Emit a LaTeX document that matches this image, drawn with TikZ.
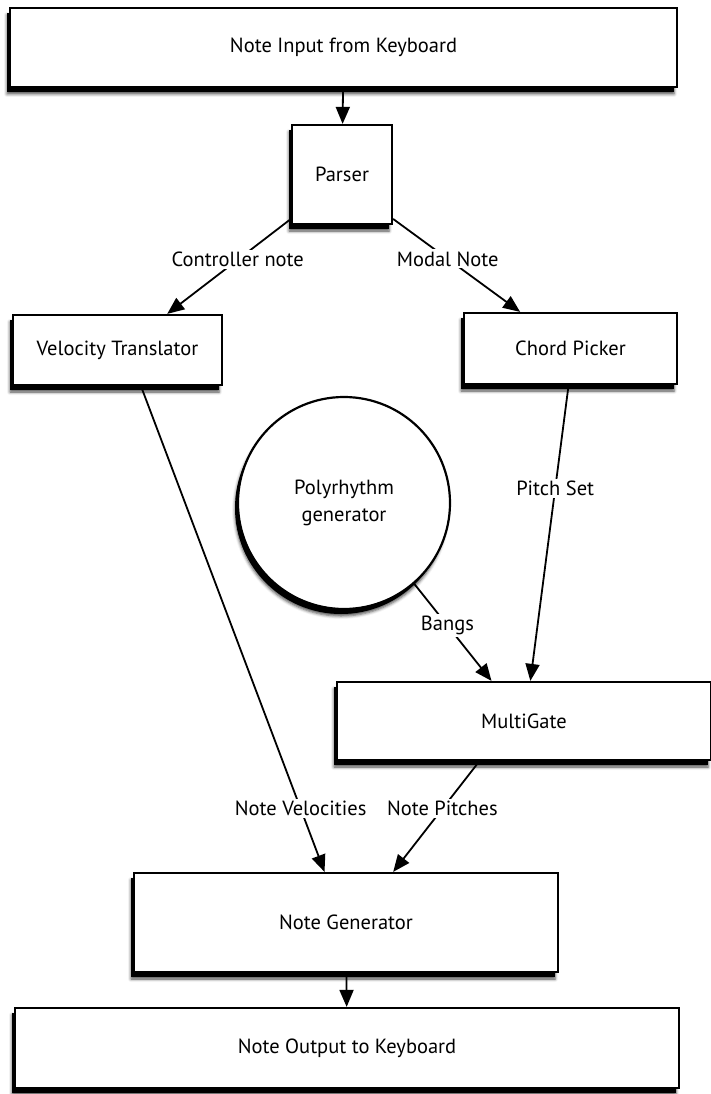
\documentclass[tikz,border=0pt]{standalone}
\usepackage{fontspec}
\setmainfont{PT Sans}
\usetikzlibrary{arrows.meta,shadows,shadows.blur}

\begin{document}
\begin{tikzpicture}[x=1pt,y=-1pt,font=\fontsize{20.5}{27}\selectfont,
  box/.style={draw, line width=2.2pt, fill=white, inner sep=0pt, align=center,
    blur shadow={shadow xshift=-3pt,shadow yshift=-7pt,shadow blur radius=3pt,shadow opacity=70},
    drop shadow={shadow xshift=-3pt,shadow yshift=-5pt,fill=black,opacity=1}},
  lbl/.style={fill=white, inner sep=2pt},
  arr/.style={line width=1.8pt, -{Triangle[length=17pt,width=14pt]}}]
\useasboundingbox (0,0) rectangle (710,1094);
\node[box, minimum width=667pt, minimum height=79pt] (input) at (343.5,47.5) {Note Input from Keyboard};
\node[box, minimum width=100pt, minimum height=99pt] (parser) at (342,174.5) {Parser};
\node[box, minimum width=209pt, minimum height=70pt] (vel) at (117.5,350) {Velocity Translator};
\node[box, minimum width=213pt, minimum height=71pt] (chord) at (570.5,348.5) {Chord Picker};
\node[box, circle, minimum size=212pt] (poly) at (344,503) {Polyrhythm\\generator};
\node[box, minimum width=374pt, minimum height=78pt] (gate) at (524,721) {MultiGate};
\node[box, minimum width=424pt, minimum height=99pt] (gen) at (346,922.5) {Note Generator};
\node[box, minimum width=664pt, minimum height=80pt] (output) at (347,1048) {Note Output to Keyboard};
\draw[arr] (input) -- (parser);
\draw[arr] (parser.221) -- node[lbl, pos=0.43]{Controller note} (vel.36);
\draw[arr] (parser.-41) -- node[lbl, pos=0.43]{Modal Note} (chord.144);
\draw[arr] (chord.-93) -- node[lbl, pos=0.35]{Pitch Set} (gate.81);
\draw[arr] (poly.-49) -- node[lbl, pos=0.43]{Bangs} (gate.129);
\draw[arr] (vel.-57) -- node[lbl, pos=0.87]{Note Velocities} (gen.113);
\draw[arr] (gate.-138) -- node[lbl, pos=0.43]{Note Pitches} (gen.47);
\draw[arr] (gen) -- (output);
\end{tikzpicture}
\end{document}
